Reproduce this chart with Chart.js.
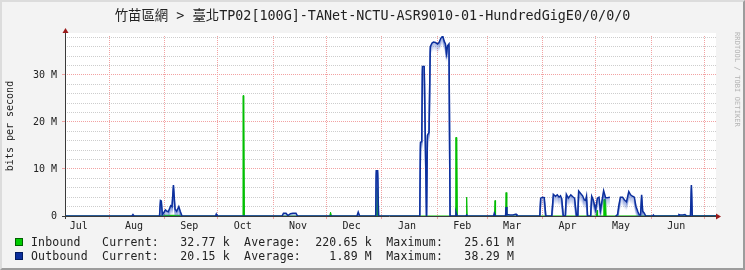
<!DOCTYPE html>
<html>
<head>
<meta charset="utf-8">
<script src="https://cdn.jsdelivr.net/npm/chart.js@4"></script>
<style>
  html, body { margin:0; padding:0; background:#f3f3f3; }
  #wrap { position:relative; width:745px; height:270px; overflow:hidden; background:#f3f3f3; }
  #c { position:absolute; left:0; top:0; }
  #frame { position:absolute; left:0; top:0; width:745px; height:270px; box-sizing:border-box;
           border-left:2px solid #dcdcdc; border-top:2px solid #dcdcdc;
           border-right:2px solid #9c9c9c; border-bottom:2px solid #9c9c9c; pointer-events:none; }
  #title { position:absolute; left:0; top:7px; width:745px; text-align:center;
           font-family:"DejaVu Sans Mono","Noto Sans CJK TC",monospace; font-size:13.4px; line-height:17px; color:#222; white-space:pre; }
  #wm { position:absolute; left:733px; top:32px; writing-mode:vertical-rl;
        font-family:"DejaVu Sans Mono",monospace; font-size:7px; color:#b4b4b4; white-space:pre; letter-spacing:0.1px; }
  .row { position:absolute; left:0; height:14px; }
  .sq { position:absolute; left:15px; top:3px; width:6px; height:6px; border:1px solid; }
  .txt { position:absolute; left:31px; top:0; margin:0; font-family:"DejaVu Sans Mono",monospace;
         font-size:11.5px; letter-spacing:0.18px; line-height:14px; color:#222; white-space:pre; }
</style>
</head>
<body>
<div id="wrap">
  <canvas id="c" width="745" height="270"></canvas>
  <div id="title"></div>
  <div id="wm">RRDTOOL / TOBI OETIKER</div>
  <div id="legend"></div>
  <div id="frame"></div>
</div>
<script>
// ---- data (x = days since 1 Jul, y = Mbit/s) ----
const chartTitle = '竹苗區網 > 臺北TP02[100G]-TANet-NCTU-ASR9010-01-HundredGigE0/0/0/0';
const yAxisTitle = 'bits per second';
const rangeStart = 6.3;
const rangeEnd = 371.3;
const monthLabels = ['Jul','Aug','Sep','Oct','Nov','Dec','Jan','Feb','Mar','Apr','May','Jun'];
const monthStartDays = [0,31,62,92,123,153,184,215,243,274,304,335,365];
const labelDays = [14,45,76,106,137,167,198,229,257,288,318,349];
const yTicks = [0,2,4,6,8,10,12,14,16,18,20,22,24,26,28,30,32,34,36,38];
const yMax = 38.29;

const inDay = [6.3, 59.5,60.0,71.5,72.0, 105.8,106.1,106.6,106.9, 154.7,155.2,155.7,
  181.0,181.3,181.7,182.0, 225.1,225.4,226.0,226.3, 231.2,231.5,231.8, 247.1,247.4,247.7,
  253.3,253.6,254.0, 304.3,304.6,304.9, 308.1,308.4,309.4,309.7, 371.3];
const inVal = [0, 0,0.15,0.15,0, 0,25.61,25.61,0, 0,0.8,0,
  0,6.0,6.0,0, 0,16.7,16.7,0, 0,4.0,0, 0,3.3,0,
  0,5.0,0, 0,1.2,0, 0,3.5,3.5,0, 0.03];

const outDay = [6.3, 43.8,44.4,45.0,
  59.3,59.8,60.3,60.9,61.8,62.6,63.5,64.2,65.6,66.3,67.1,68.0,68.9,70.1,70.9,71.9,
  90.7,91.1,91.5,
  128.0,128.8,130.2,131.3,132.7,134.1,135.8,136.7,
  170.0,170.7,171.5,
  180.5,180.8,181.6,182.1,
  205.2,205.6,206.3,206.7,207.7,209.0,209.5,210.4,211.1,212.1,212.9,214.0,215.2,216.0,217.0,218.1,218.9,219.6,220.2,220.8,221.6,222.2,
  225.0,225.5,226.1,
  231.1,231.5,231.9,
  246.6,247.0,247.6,
  253.3,253.6,254.1,255.8,257.5,259.2,259.7,
  272.5,273.0,274.0,275.0,275.9,
  279.2,280.1,281.3,282.3,283.3,284.1,284.8,285.7,
  286.8,287.4,288.5,289.9,291.0,292.0,293.1,
  293.8,294.3,295.4,296.5,297.5,298.2,298.7,299.3,
  301.0,301.6,302.4,303.8,304.8,305.7,306.5,307.1,308.3,309.4,310.5,311.8,
  312.5,
  315.0,316.1,316.8,317.7,318.9,320.0,321.1,322.4,323.4,324.5,325.5,326.4,327.5,328.3,329.0,329.6,330.2,331.1,331.9,
  335.8,336.2,336.6,
  350.0,350.5,351.1,352.8,353.9,354.9,
  357.0,357.5,358.0,
  371.3];
const outVal = [0, 0,0.3,0,
  0,3.3,3.2,0.3,0.8,1.3,1.0,0.9,2.2,2.0,6.6,1.5,1.0,2.0,1.0,0,
  0,0.4,0,
  0,0.6,0.6,0.1,0.5,0.6,0.6,0,
  0,0.85,0,
  0,9.6,9.6,0,
  0,15.7,15.8,31.8,31.8,0,17.2,17.8,36.0,36.8,37.0,36.9,36.6,36.9,37.8,38.29,37.2,36.6,34.6,36.2,36.6,0,
  0,0.8,0,
  0,0.2,0,
  0,0.6,0,
  0,1.9,0.3,0.2,0.2,0.4,0,
  0,3.8,4.0,3.9,0,
  0,4.6,4.2,4.5,4.0,4.3,3.7,0,
  0,4.6,3.8,4.5,4.1,3.8,0,
  0,5.3,4.8,4.3,3.4,3.3,4.2,0,
  0,4.2,3.5,1.4,3.8,4.0,1.2,2.6,5.4,3.9,3.9,4.0,
  null,
  0,0.3,2.2,4.0,4.0,3.4,3.0,5.2,4.5,4.2,4.0,2.1,0.9,0.2,0.2,4.5,1.0,0.6,0,
  0,0.2,0,
  0,0.3,0.2,0.2,0.3,0,
  0,6.6,0,
  0.02];

const seriesNames = ['Inbound','Outbound'];
const seriesColors = ['#00cc00','#0c2f9c'];
const seriesEdge = ['#006000','#001a60'];
const currentVals = ['32.77 k','20.15 k'];
const averageVals = ['220.65 k','1.89 M'];
const maximumVals = ['25.61 M','38.29 M'];

// ---- text overlays ----
document.getElementById('title').textContent = chartTitle;
const leg = document.getElementById('legend');
seriesNames.forEach((n, i) => {
  const row = document.createElement('div');
  row.className = 'row';
  row.style.top = (235 + i * 14.3) + 'px';
  const sq = document.createElement('div');
  sq.className = 'sq';
  sq.style.background = seriesColors[i];
  sq.style.borderColor = seriesEdge[i];
  const t = document.createElement('pre');
  t.className = 'txt';
  t.textContent = n.padEnd(10) + 'Current:' + currentVals[i].padStart(10) +
    '  Average:' + averageVals[i].padStart(10) + '  Maximum:' + maximumVals[i].padStart(10);
  row.appendChild(sq); row.appendChild(t);
  leg.appendChild(row);
});

const toPts = (xs, ys) => xs.map((x, i) => ({x: x, y: ys[i]}));
const MONO = 'DejaVu Sans Mono';

// soft gradient under the outbound line (rrdtool-style fade), built from the library's own point positions
const outGlow = {
  id: 'outGlow',
  beforeDatasetDraw(chart, args) {
    if (args.index !== 1) return;
    const pts = args.meta.data;
    const a = chart.chartArea, ctx = chart.ctx;
    ctx.save();
    ctx.beginPath();
    ctx.rect(a.left, a.top, a.right - a.left, a.bottom - a.top);
    ctx.clip();
    ctx.lineWidth = 1.5;
    ctx.lineJoin = 'round';
    for (let k = 8; k >= 1; k--) {
      ctx.strokeStyle = 'rgba(60,95,200,' + (0.32 * (1 - k / 9)).toFixed(3) + ')';
      ctx.beginPath();
      let pen = false;
      for (const p of pts) {
        if (p.skip || isNaN(p.y)) { pen = false; continue; }
        if (!pen) { ctx.moveTo(p.x, p.y + k); pen = true; } else { ctx.lineTo(p.x, p.y + k); }
      }
      ctx.stroke();
    }
    ctx.restore();
  }
};

const frameAndAxes = {
  id: 'frameAndAxes',
  beforeDraw(chart) {
    const a = chart.chartArea, ctx = chart.ctx;
    ctx.save();
    ctx.fillStyle = '#ffffff';
    ctx.fillRect(a.left, a.top - 3, a.right - a.left, a.bottom - a.top + 3);
    ctx.restore();
  },
  afterDatasetsDraw(chart) {
    const a = chart.chartArea, ctx = chart.ctx;
    ctx.save();
    ctx.strokeStyle = '#3a3a3a';
    ctx.lineWidth = 1;
    ctx.beginPath();
    ctx.moveTo(a.left + 0.5, a.top - 3);
    ctx.lineTo(a.left + 0.5, a.bottom + 3);
    ctx.moveTo(a.left - 3, a.bottom + 0.5);
    ctx.lineTo(a.right + 1, a.bottom + 0.5);
    ctx.stroke();
    ctx.fillStyle = '#9a1a1a';
    ctx.beginPath();
    ctx.moveTo(a.left - 2.5, a.top - 3);
    ctx.lineTo(a.left + 3.5, a.top - 3);
    ctx.lineTo(a.left + 0.5, a.top - 8);
    ctx.closePath();
    ctx.fill();
    ctx.beginPath();
    ctx.moveTo(a.right, a.bottom - 2.5);
    ctx.lineTo(a.right, a.bottom + 3.5);
    ctx.lineTo(a.right + 5, a.bottom + 0.5);
    ctx.closePath();
    ctx.fill();
    ctx.restore();
  }
};

new Chart(document.getElementById('c'), {
  type: 'line',
  data: {
    datasets: [
      {
        label: 'Inbound',
        data: toPts(inDay, inVal),
        borderColor: '#00bb00',
        backgroundColor: '#00cc00',
        borderWidth: 1,
        fill: 'origin',
        pointRadius: 0,
        tension: 0,
        order: 2,
        xAxisID: 'x', yAxisID: 'y'
      },
      {
        label: 'Outbound',
        data: toPts(outDay, outVal),
        borderColor: '#0c2f9c',
        borderWidth: 1.5,
        fill: false,
        pointRadius: 0,
        tension: 0,
        spanGaps: false,
        order: 1,
        xAxisID: 'x', yAxisID: 'y'
      }
    ]
  },
  options: {
    responsive: false,
    animation: false,
    devicePixelRatio: 1,
    layout: { padding: { left: 0, right: 29, top: 36, bottom: 0 } },
    plugins: { legend: { display: false }, tooltip: { enabled: false }, title: { display: false } },
    scales: {
      x: {
        type: 'linear', position: 'bottom', weight: 0,
        min: rangeStart, max: rangeEnd,
        afterFit: s => { s.height = 3; },
        afterBuildTicks: s => { s.ticks = monthStartDays.filter(d => d > rangeStart && d < rangeEnd).map(v => ({value: v})); },
        ticks: { display: false },
        grid: { color: '#f2a2a2', lineWidth: 1, drawTicks: true, tickLength: 3, tickColor: '#f2a2a2' },
        border: { display: false, dash: [1, 1] }
      },
      xl: {
        type: 'linear', position: 'bottom', weight: 1,
        min: rangeStart, max: rangeEnd,
        afterFit: s => { s.height = 51; },
        afterBuildTicks: s => { s.ticks = labelDays.map(v => ({value: v})); },
        ticks: {
          autoSkip: false, maxRotation: 0, minRotation: 0, padding: 1,
          font: { family: MONO, size: 10 }, color: '#222',
          callback: (v, i) => monthLabels[i]
        },
        grid: { display: false, drawTicks: false },
        border: { display: false }
      },
      y: {
        type: 'linear', min: 0, max: yMax,
        afterFit: s => { s.width = 65; },
        afterBuildTicks: s => { s.ticks = yTicks.map(v => ({value: v})); },
        ticks: {
          autoSkip: false, padding: 5,
          font: { family: MONO, size: 10 }, color: '#222',
          callback: v => (v % 10 === 0 ? (v === 0 ? '0' : v + ' M') : '')
        },
        grid: {
          lineWidth: 1, drawTicks: true, tickLength: 3,
          color: c => { const v = c.tick ? c.tick.value : 1; return v === 0 ? 'rgba(0,0,0,0)' : (v % 10 === 0 ? '#f2a2a2' : '#cdcdcd'); },
          tickColor: c => { const v = c.tick ? c.tick.value : 1; return (v % 10 === 0 && v !== 0) ? '#f2a2a2' : 'rgba(0,0,0,0)'; }
        },
        border: { display: false, dash: [1, 1] },
        title: { display: true, text: yAxisTitle, font: { family: MONO, size: 10 }, color: '#222', padding: { top: 4, bottom: 0 } }
      }
    }
  },
  plugins: [outGlow, frameAndAxes]
});
</script>
</body>
</html>
